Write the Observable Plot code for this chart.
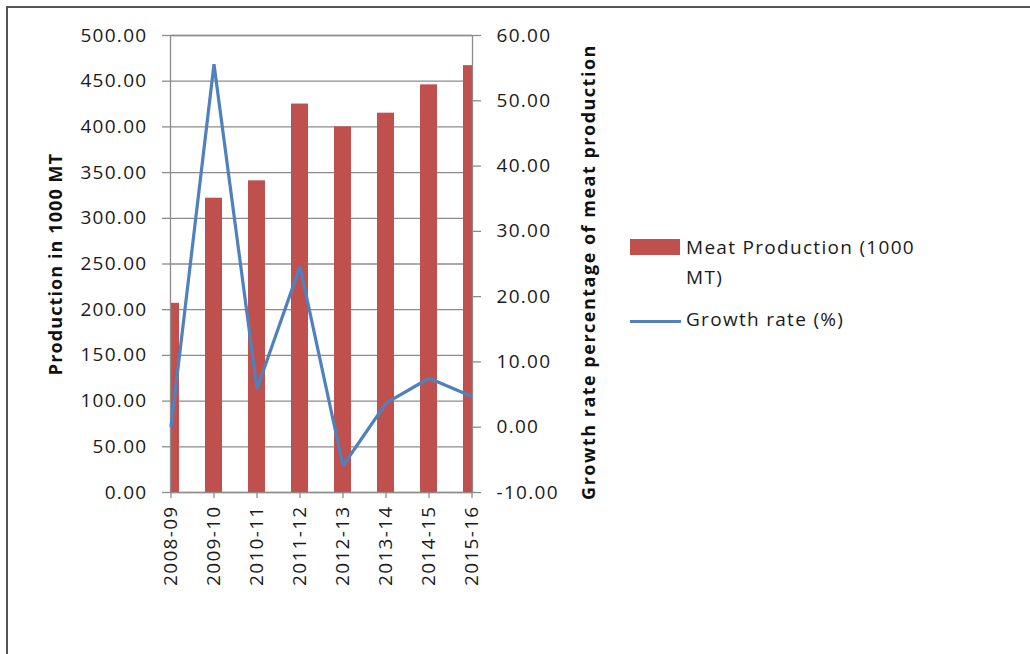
<!DOCTYPE html>
<html>
<head>
<meta charset="utf-8">
<script src="https://cdn.jsdelivr.net/npm/d3@7"></script>
<script src="https://cdn.jsdelivr.net/npm/@observablehq/plot@0.6"></script>
<style>
  html, body { margin: 0; padding: 0; background: #fff; }
  #wrap { position: relative; width: 1030px; height: 654px; overflow: hidden; font-family: "Open Sans", sans-serif; }
  #border { position: absolute; left: 6px; top: 6px; right: -10px; bottom: -10px; border-top: 2px solid #555; border-left: 2px solid #555; }
  #chart { position: absolute; left: 0; top: 0; }
  #legend { position: absolute; left: 630px; top: 232px; font-size: 19px; color: #1a1a1a; letter-spacing: 1.3px; line-height: 30px; }
  .item { position: relative; padding-left: 56px; }
  .sw { position: absolute; left: 0; }
</style>
</head>
<body>
<div id="wrap">
  <div id="border"></div>
  <div id="chart"></div>
  <div id="legend"></div>
</div>
<script>
const categories = ["2008-09", "2009-10", "2010-11", "2011-12", "2012-13", "2013-14", "2014-15", "2015-16"];
const production = [207, 322, 341, 425, 400, 415, 446, 467];
const growth = [0, 55.6, 5.9, 24.6, -5.9, 3.7, 7.5, 4.7];
const leftTicks = [0, 50, 100, 150, 200, 250, 300, 350, 400, 450, 500];
const rightTicks = [-10, 0, 10, 20, 30, 40, 50, 60];
const seriesNames = ["Meat Production (1000 MT)", "Growth rate (%)"];
const leftTitle = "Production in 1000 MT";
const rightTitle = "Growth rate percentage of meat production";

const barColor = "#C0504D";
const lineColor = "#4F81BD";
const gridColor = "#8c8c8c";

// map right-axis (growth) values onto the left scale
const gMin = -10, gMax = 60, pMax = 500;
const toLeft = g => (g - gMin) * pMax / (gMax - gMin);
const fromLeft = v => Math.round((v * (gMax - gMin) / pMax + gMin) * 100) / 100;

const data = categories.map((c, i) => ({cat: c, prod: production[i], growth: growth[i], gy: toLeft(growth[i])}));

const W = 1030, H = 654;
const mLeft = 170, mRight = W - 472, mTop = 35, mBottom = H - 492;
const step = (W - mLeft - mRight) / (categories.length - 1);

const chart = Plot.plot({
  width: W,
  height: H,
  marginLeft: mLeft,
  marginRight: mRight,
  marginTop: mTop,
  marginBottom: mBottom,
  style: {fontFamily: '"Open Sans", sans-serif', fontSize: "19px", color: "#1a1a1a", background: "transparent", overflow: "visible"},
  x: {type: "band", domain: categories, range: [mLeft - step / 2, W - mRight + step / 2], paddingInner: 0.6, paddingOuter: 0.3, align: 0.5},
  y: {domain: [0, pMax], range: [H - mBottom, mTop]},
  marks: [
    Plot.gridY(leftTicks, {stroke: gridColor, strokeOpacity: 1, strokeWidth: 1.3}),
    Plot.rectY(data, {x: "cat", y1: 0, y2: "prod", fill: barColor, clip: "frame"}),
    Plot.frame({stroke: gridColor, strokeWidth: 1.3}),
    Plot.lineY(data, {x: "cat", y: "gy", stroke: lineColor, strokeWidth: 3.2, strokeLinejoin: "miter", strokeLinecap: "butt"}),
    Plot.axisY(leftTicks, {
      anchor: "left", tickSize: 8, tickPadding: 15, stroke: gridColor, strokeWidth: 1.3,
      tickFormat: d => d.toFixed(2),
      label: leftTitle, labelAnchor: "center", labelArrow: "none", labelOffset: 121
    }),
    Plot.axisY(rightTicks.map(toLeft), {
      anchor: "right", tickSize: 8, tickPadding: 16, stroke: gridColor, strokeWidth: 1.3,
      tickFormat: d => fromLeft(d).toFixed(2),
      label: rightTitle, labelAnchor: "center", labelArrow: "none", labelOffset: 122
    }),
    Plot.axisX({
      anchor: "bottom", tickSize: 6, tickPadding: 7, stroke: gridColor, strokeWidth: 1.3,
      tickRotate: -90, label: null
    })
  ]
});

document.getElementById("chart").appendChild(chart);

// style axis texts
d3.select(chart).selectAll("[aria-label='y-axis tick label'] text, [aria-label='x-axis tick label'] text")
  .style("letter-spacing", "1.3px");
d3.select(chart).selectAll("[aria-label='y-axis label'] text")
  .style("font-weight", "bold").style("font-size", "18px").style("letter-spacing", "1.1px").style("fill", "#111");
d3.select(chart).selectAll("[aria-label='y-axis label']")
  .filter((d, i) => i === 1)
  .selectAll("text").style("letter-spacing", "1.5px").attr("dx", -8);

// legend (HTML, beside the plot)
const legend = d3.select("#legend");
const it1 = legend.append("div").attr("class", "item");
it1.append("div").attr("class", "sw").style("top", "7px").style("width", "50px").style("height", "16px").style("background", barColor);
it1.append("div").html("Meat Production (1000<br>MT)");
const it2 = legend.append("div").attr("class", "item").style("margin-top", "12px");
it2.append("div").attr("class", "sw").style("top", "16px").style("width", "51px").style("height", "3px").style("background", lineColor);
it2.append("div").text(seriesNames[1]);
</script>
</body>
</html>
